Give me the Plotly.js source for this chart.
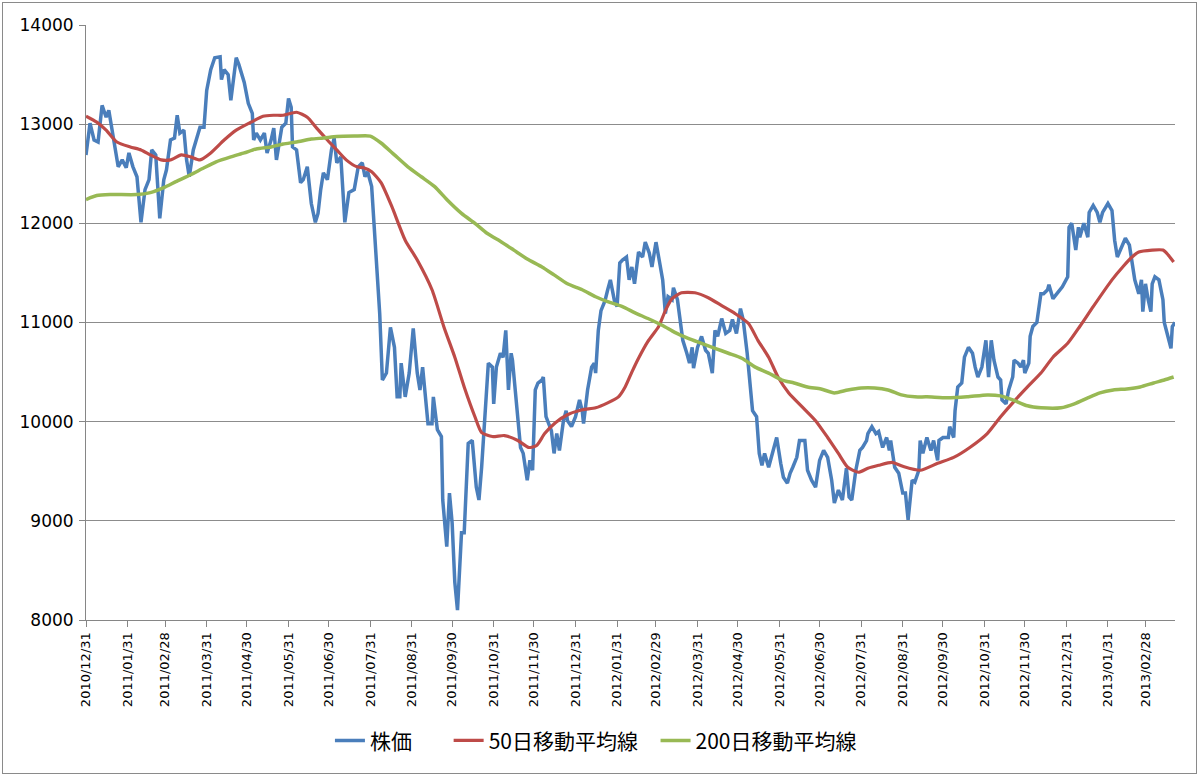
<!DOCTYPE html>
<html>
<head>
<meta charset="utf-8">
<script src="https://cdn.plot.ly/plotly-3.0.1.min.js"></script>
<style>
  html, body { margin: 0; padding: 0; background: #fff; }
  #chart { position: absolute; left: 0; top: 0; width: 1200px; height: 777px; }
  #frame { position: absolute; left: 2px; top: 2px; width: 1193px; height: 770px; border: 1px solid #8a8a8a; pointer-events: none; }
</style>
</head>
<body>
<div id="chart"></div>
<div id="frame"></div>
<script>
// ---- Data ----
const seriesNames = ["株価", "50日移動平均線", "200日移動平均線"];

const priceDates = [
"2010-12-31","2011-01-03","2011-01-06","2011-01-09","2011-01-12","2011-01-15","2011-01-17","2011-01-19","2011-01-22","2011-01-24",
"2011-01-27","2011-01-30","2011-02-01","2011-02-04","2011-02-07","2011-02-10","2011-02-13","2011-02-16","2011-02-18","2011-02-21",
"2011-02-24","2011-02-27","2011-03-01","2011-03-04","2011-03-07","2011-03-09","2011-03-11","2011-03-14","2011-03-16","2011-03-18",
"2011-03-21","2011-03-23","2011-03-26","2011-03-29","2011-03-31","2011-04-03","2011-04-06","2011-04-10","2011-04-11","2011-04-13",
"2011-04-16","2011-04-18","2011-04-22","2011-04-24","2011-04-28","2011-05-01","2011-05-04","2011-05-05","2011-05-07","2011-05-10",
"2011-05-13","2011-05-15","2011-05-18","2011-05-20","2011-05-22","2011-05-26","2011-05-29","2011-05-31","2011-06-02","2011-06-03",
"2011-06-06","2011-06-09","2011-06-11","2011-06-14","2011-06-17","2011-06-20","2011-06-22","2011-06-24","2011-06-26","2011-06-29",
"2011-07-02","2011-07-04","2011-07-06","2011-07-09","2011-07-12","2011-07-15","2011-07-19","2011-07-22","2011-07-25","2011-07-27",
"2011-07-29","2011-08-01","2011-08-03","2011-08-05","2011-08-07","2011-08-09","2011-08-12","2011-08-15","2011-08-18","2011-08-20",
"2011-08-22","2011-08-23","2011-08-26","2011-08-29","2011-09-01","2011-09-04","2011-09-06","2011-09-08","2011-09-12","2011-09-15",
"2011-09-16","2011-09-19","2011-09-22","2011-09-23","2011-09-26","2011-09-28","2011-09-30","2011-10-02","2011-10-04","2011-10-07",
"2011-10-09","2011-10-12","2011-10-15","2011-10-18","2011-10-20","2011-10-22","2011-10-25","2011-10-27","2011-10-30","2011-10-31",
"2011-11-02","2011-11-05","2011-11-07","2011-11-09","2011-11-11","2011-11-13","2011-11-14","2011-11-17","2011-11-20","2011-11-22",
"2011-11-25","2011-11-27","2011-11-29","2011-12-01","2011-12-03","2011-12-06","2011-12-07","2011-12-09","2011-12-10","2011-12-13",
"2011-12-15","2011-12-17","2011-12-19","2011-12-22","2011-12-24","2011-12-25","2011-12-28","2011-12-31","2012-01-03","2012-01-05",
"2012-01-06","2012-01-09","2012-01-12","2012-01-14","2012-01-15","2012-01-17","2012-01-19","2012-01-22","2012-01-24","2012-01-26",
"2012-01-29","2012-01-31","2012-02-02","2012-02-04","2012-02-07","2012-02-09","2012-02-11","2012-02-13","2012-02-16","2012-02-19",
"2012-02-21","2012-02-24","2012-02-26","2012-02-29","2012-03-02","2012-03-05","2012-03-07","2012-03-09","2012-03-12","2012-03-13",
"2012-03-16","2012-03-18","2012-03-20","2012-03-23","2012-03-25","2012-03-27","2012-03-28","2012-03-31","2012-04-03","2012-04-06",
"2012-04-08","2012-04-11","2012-04-13","2012-04-15","2012-04-18","2012-04-21","2012-04-24","2012-04-26","2012-04-29","2012-05-02",
"2012-05-04","2012-05-07","2012-05-09","2012-05-11","2012-05-14","2012-05-16","2012-05-18","2012-05-20","2012-05-23","2012-05-26",
"2012-05-29","2012-06-01","2012-06-03","2012-06-06","2012-06-08","2012-06-10","2012-06-13","2012-06-15","2012-06-19","2012-06-21",
"2012-06-24","2012-06-27","2012-06-30","2012-07-03","2012-07-06","2012-07-09","2012-07-11","2012-07-14","2012-07-17","2012-07-20",
"2012-07-22","2012-07-24","2012-07-27","2012-07-30","2012-08-01","2012-08-04","2012-08-05","2012-08-08","2012-08-11","2012-08-13",
"2012-08-16","2012-08-19","2012-08-21","2012-08-22","2012-08-25","2012-08-28","2012-08-31","2012-09-02","2012-09-04","2012-09-07",
"2012-09-09","2012-09-12","2012-09-13","2012-09-15","2012-09-18","2012-09-21","2012-09-23","2012-09-26","2012-09-27","2012-09-30",
"2012-10-04","2012-10-05","2012-10-08","2012-10-09","2012-10-11","2012-10-14","2012-10-16","2012-10-19","2012-10-22","2012-10-24",
"2012-10-26","2012-10-29","2012-11-01","2012-11-03","2012-11-05","2012-11-07","2012-11-10","2012-11-12","2012-11-13","2012-11-16",
"2012-11-18","2012-11-21","2012-11-22","2012-11-25","2012-11-27","2012-11-29","2012-11-30","2012-12-03","2012-12-04","2012-12-06",
"2012-12-09","2012-12-12","2012-12-14","2012-12-17","2012-12-18","2012-12-21","2012-12-24","2012-12-28","2013-01-01","2013-01-02",
"2013-01-04","2013-01-07","2013-01-09","2013-01-10","2013-01-13","2013-01-16","2013-01-17","2013-01-20","2013-01-23","2013-01-25",
"2013-01-27","2013-01-29","2013-01-31","2013-02-03","2013-02-05","2013-02-07","2013-02-10","2013-02-13","2013-02-16","2013-02-18",
"2013-02-20","2013-02-23","2013-02-25","2013-02-26","2013-02-28","2013-03-02","2013-03-04","2013-03-05","2013-03-07","2013-03-10",
"2013-03-13","2013-03-14","2013-03-17","2013-03-19","2013-03-20","2013-03-22"
];
const priceValues = [
12690,13010,12840,12820,13190,13070,13140,12970,12740,12570,
12640,12560,12710,12570,12470,12010,12340,12440,12740,12690,
12050,12440,12540,12840,12860,13090,12910,12940,12640,12470,
12740,12840,12970,12970,13340,13550,13670,13680,13450,13550,
13500,13240,13670,13600,13420,13210,13110,12840,12910,12840,
12910,12710,12840,12960,12640,12970,13010,13260,13170,12770,
12740,12410,12440,12570,12200,12010,12100,12340,12510,12440,
12740,12860,12610,12670,12010,12310,12340,12570,12610,12470,
12520,12370,11900,11430,11090,10420,10490,10950,10750,10250,
10250,10590,10250,10490,10940,10490,10320,10550,9980,9980,
10250,9920,9850,9210,8740,9280,8980,8380,8100,8880,
8880,9780,9810,9340,9210,9540,10140,10590,10550,10180,
10550,10690,10650,10920,10320,10690,10620,10180,9740,9680,
9410,9610,9510,10320,10390,10420,10450,10050,10010,9910,
9680,9880,9710,10010,10110,10010,9950,10050,10220,10110,
9980,10320,10550,10590,10490,10920,11120,11220,11330,11430,
11220,11160,11600,11630,11660,11430,11560,11390,11710,11660,
11810,11700,11560,11810,11660,11430,11090,11260,11230,11350,
11230,11030,10820,10690,10590,10750,10540,10750,10860,10720,
10690,10490,10920,10860,11040,10890,10920,11030,10890,11140,
11030,10690,10390,10110,10050,9680,9560,9680,9540,9680,
9840,9580,9440,9380,9480,9540,9640,9810,9810,9510,
9410,9340,9610,9710,9640,9410,9180,9310,9210,9530,
9240,9210,9510,9710,9740,9810,9880,9950,9880,9900,
9740,9840,9710,9810,9540,9480,9280,9280,9010,9410,
9390,9510,9810,9680,9840,9710,9810,9610,9810,9840,
9840,9950,9840,10110,10350,10390,10650,10750,10690,10550,
10450,10550,10820,10450,10820,10620,10450,10420,10220,10180,
10320,10450,10620,10590,10550,10620,10490,10590,10860,10960,
11000,11290,11290,11330,11380,11240,11290,11360,11460,11960,
12000,11730,11960,11860,12000,11860,12110,12180,12110,12010,
12110,12150,12200,12130,11830,11660,11760,11850,11780,11600,
11430,11290,11430,11110,11390,11230,11110,11390,11460,11430,
11230,11000,10860,10740,10960,11000
];

const ma50Dates = [
"2010-12-31","2011-01-08","2011-01-15","2011-01-23","2011-02-02","2011-02-10","2011-02-17","2011-02-25","2011-03-04","2011-03-12",
"2011-03-19","2011-03-26","2011-04-03","2011-04-13","2011-04-22","2011-05-03","2011-05-12","2011-05-20","2011-05-27","2011-06-06",
"2011-06-14","2011-06-21","2011-06-29","2011-07-06","2011-07-13","2011-07-21","2011-07-26","2011-08-01","2011-08-08","2011-08-16",
"2011-08-26","2011-09-04","2011-09-15","2011-09-24","2011-10-02","2011-10-09","2011-10-17","2011-10-22","2011-10-30","2011-11-08",
"2011-11-18","2011-11-26","2011-12-02","2011-12-08","2011-12-16","2011-12-25","2012-01-05","2012-01-15","2012-01-24","2012-02-01",
"2012-02-06","2012-02-11","2012-02-16","2012-02-23","2012-03-02","2012-03-07","2012-03-12","2012-03-19","2012-03-29",
"2012-04-08","2012-04-18","2012-04-28","2012-05-08","2012-05-15","2012-05-23","2012-05-30","2012-06-07","2012-06-17","2012-06-27",
"2012-07-06","2012-07-14","2012-07-21","2012-07-29","2012-08-05","2012-08-13","2012-08-23","2012-08-31","2012-09-13","2012-09-26",
"2012-10-08","2012-10-20","2012-11-02","2012-11-12","2012-11-21","2012-12-02","2012-12-12","2012-12-21","2013-01-01","2013-01-10",
"2013-01-20","2013-02-03","2013-02-11","2013-02-18","2013-02-23","2013-03-05","2013-03-13","2013-03-17","2013-03-21"
];
const ma50Values = [
13080,13020,12940,12820,12770,12740,12690,12640,12640,12690,
12670,12640,12710,12840,12940,13020,13080,13090,13090,13120,
13070,12960,12840,12740,12640,12570,12560,12520,12410,12170,
11830,11630,11330,10950,10650,10350,10050,9890,9850,9860,
9810,9740,9760,9880,9990,10070,10120,10140,10190,10250,
10350,10500,10640,10810,10960,11120,11240,11300,11300,
11250,11170,11090,10990,10820,10650,10450,10290,10150,10010,
9840,9680,9540,9490,9530,9560,9590,9550,9510,9580,
9640,9740,9880,10050,10190,10350,10490,10650,10790,10960,
11160,11430,11560,11660,11710,11730,11730,11680,11610
];

const ma200Dates = [
"2010-12-31","2011-01-08","2011-01-18","2011-02-07","2011-02-17","2011-02-27","2011-03-08","2011-03-19","2011-03-29","2011-04-07",
"2011-04-18","2011-04-28","2011-05-07","2011-05-18","2011-05-27","2011-06-06","2011-06-17","2011-06-26","2011-07-06","2011-07-19",
"2011-07-31","2011-08-08","2011-08-18","2011-08-28","2011-09-07","2011-09-17","2011-09-26","2011-10-07","2011-10-17","2011-10-26",
"2011-11-06","2011-11-15","2011-11-25","2011-12-06","2011-12-15","2011-12-25","2012-01-05","2012-01-15","2012-01-24","2012-02-04",
"2012-02-13","2012-02-23","2012-03-05","2012-03-14","2012-03-24","2012-04-03","2012-04-13","2012-04-23","2012-05-03","2012-05-13",
"2012-05-23","2012-06-02","2012-06-11","2012-06-21","2012-07-01","2012-07-11","2012-07-21","2012-07-31","2012-08-10","2012-08-20",
"2012-08-30","2012-09-09","2012-09-18","2012-10-03","2012-10-18","2012-11-02","2012-11-12","2012-11-21","2012-12-02","2012-12-12",
"2012-12-27","2013-01-06","2013-01-16","2013-01-25","2013-02-04","2013-02-14","2013-02-24","2013-03-06","2013-03-14","2013-03-21"
];
const ma200Values = [
12240,12280,12290,12290,12310,12360,12420,12490,12560,12620,
12670,12710,12750,12770,12800,12820,12850,12860,12875,12880,
12880,12810,12690,12570,12470,12370,12240,12100,12000,11900,
11810,11730,11640,11560,11480,11390,11330,11260,11210,11160,
11100,11040,10970,10900,10840,10790,10740,10690,10640,10550,
10490,10420,10390,10350,10330,10290,10320,10340,10340,10320,
10270,10250,10250,10240,10250,10270,10260,10220,10160,10140,
10140,10180,10240,10290,10320,10330,10350,10390,10420,10450
];

const tickDates = [
"2010-12-31","2011-01-31","2011-02-28","2011-03-31","2011-04-30","2011-05-31","2011-06-30","2011-07-31","2011-08-31",
"2011-09-30","2011-10-31","2011-11-30","2011-12-31","2012-01-31","2012-02-29","2012-03-31","2012-04-30","2012-05-31",
"2012-06-30","2012-07-31","2012-08-31","2012-09-30","2012-10-31","2012-11-30","2012-12-31","2013-01-31","2013-02-28"
];
const tickLabels = tickDates.map(d => d.replace(/-/g, "/"));

const seriesColors = ["#4A7EBB", "#BE4B48", "#98B954"];

// ---- Chart ----
const traces = [
  { x: priceDates, y: priceValues, name: seriesNames[0], type: "scatter", mode: "lines",
    legend: "legend", line: { color: seriesColors[0], width: 3.5 } },
  { x: ma50Dates, y: ma50Values, name: seriesNames[1], type: "scatter", mode: "lines",
    legend: "legend2", line: { color: seriesColors[1], width: 3.2, shape: "spline", smoothing: 0.6 } },
  { x: ma200Dates, y: ma200Values, name: seriesNames[2], type: "scatter", mode: "lines",
    legend: "legend3", line: { color: seriesColors[2], width: 3.5, shape: "spline", smoothing: 0.6 } }
];

const tickFamily = "Verdana, DejaVu Sans, sans-serif";
const legendFont = { family: "Noto Sans CJK JP, sans-serif", size: 21, color: "#000" };
function legendAt(xPaper) {
  return { orientation: "h", x: xPaper, xanchor: "left", y: -0.203, yanchor: "middle",
           font: legendFont, bgcolor: "rgba(0,0,0,0)", borderwidth: 0 };
}

const layout = {
  width: 1200, height: 777,
  margin: { l: 86, r: 25, t: 25, b: 157 },
  paper_bgcolor: "#ffffff", plot_bgcolor: "#ffffff",
  showlegend: true,
  legend: legendAt(0.224),
  legend2: legendAt(0.333),
  legend3: legendAt(0.523),
  xaxis: {
    type: "date", range: ["2010-12-31", "2013-03-22"],
    tickmode: "array", tickvals: tickDates, ticktext: tickLabels,
    tickangle: -90, ticks: "outside", ticklen: 6, tickcolor: "#868686", tickwidth: 1,
    showline: true, linecolor: "#868686", linewidth: 1, showgrid: false, zeroline: false,
    tickfont: { family: tickFamily, size: 13, color: "#000" }
  },
  yaxis: {
    range: [8000, 14000], tick0: 8000, dtick: 1000, tickformat: "d",
    ticks: "outside", ticklen: 6, tickcolor: "#868686",
    showline: true, linecolor: "#868686", linewidth: 1,
    showgrid: true, gridcolor: "#8c8c8c", gridwidth: 1.2, zeroline: false,
    ticklabelstandoff: 2,
    tickfont: { family: tickFamily, size: 17, color: "#000" }
  }
};

Plotly.newPlot("chart", traces, layout, { displayModeBar: false, staticPlot: true });
</script>
</body>
</html>
